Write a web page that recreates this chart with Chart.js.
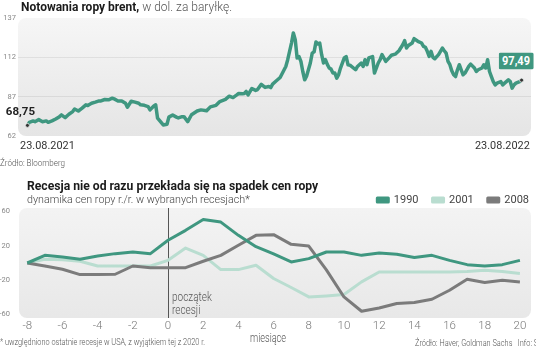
<!DOCTYPE html>
<html lang="pl"><head><meta charset="utf-8">
<script src="https://cdn.jsdelivr.net/npm/chart.js@4/dist/chart.umd.min.js"></script>
<style>
html,body{margin:0;padding:0;background:#fff;}
body{width:536px;height:348px;position:relative;overflow:hidden;font-family:Roboto,"Liberation Sans",sans-serif;color:#222;}
.abs{position:absolute;white-space:nowrap;line-height:1;}
.wrap{position:absolute;left:0;width:536px;}
.title{font-weight:bold;font-size:12.5px;color:#1b1b1b;}
.title span{font-weight:300;color:#555;}
.sub{font-size:11.5px;font-weight:300;color:#444;}
.date{font-size:11.5px;color:#333;}
.src{font-size:9px;color:#555;font-weight:300;}
.val{font-weight:bold;font-size:11.5px;color:#222;}
.box{font-weight:bold;font-size:12px;color:#fff;background:#3f9780;padding:2.5px 3.5px;border-radius:2px;}
.note{font-size:12px;color:#555;font-weight:300;line-height:13px;}
</style></head>
<body>
<div class="wrap" style="top:0;height:175px;">
  <canvas id="c1" width="536" height="175"></canvas>
  <div class="abs val" id="startVal" data-w="29" data-t="translate(-50%,-50%)" data-o="center"></div>
  <div class="abs box" id="endVal" data-w="35" data-t="translate(-50%,-50%)" data-o="center"></div>
</div>
<div class="wrap" style="top:175px;height:173px;">
  <canvas id="c2" width="536" height="173"></canvas>
  <div class="abs note" id="recNote" data-w="40" data-t="" data-o="left top">początek<br>recesji</div>
</div>
<div class="abs title fit" style="left:21px;top:7px;" data-w="211" data-t="translateY(-50%)" data-o="left center">Notowania ropy brent,<span> w dol. za baryłkę.</span></div>
<div class="abs date fit" id="d1" style="left:20px;top:146px;" data-w="55" data-t="translateY(-50%)" data-o="left center"></div>
<div class="abs date fit" id="d2" style="right:6px;top:146px;" data-w="55" data-t="translateY(-50%)" data-o="right center"></div>
<div class="abs src fit" style="left:0px;top:163px;" data-w="65" data-t="translateY(-50%)" data-o="left center">Źródło: Bloomberg</div>
<div class="abs title fit" style="left:27px;top:186px;" data-w="291" data-t="translateY(-50%)" data-o="left center">Recesja nie od razu przekłada się na spadek cen ropy</div>
<div class="abs sub fit" style="left:27px;top:200px;" data-w="223" data-t="translateY(-50%)" data-o="left center">dynamika cen ropy r./r. w wybranych recesjach*</div>
<div class="abs note fit" style="left:250px;top:337.5px;" data-w="36" data-t="translateY(-50%)" data-o="left center">miesiące</div>
<div class="abs src fit" style="left:0px;top:341.5px;" data-w="205" data-t="translateY(-50%)" data-o="left center">* uwzględniono ostatnie recesje w USA, z wyjątkiem tej z 2020 r.</div>
<div class="abs src fit" style="left:415px;top:343px;" data-w="123" data-t="translateY(-50%)" data-o="left center">Źródło: Haver, Goldman Sachs&nbsp;&nbsp;&nbsp;Info: S</div>
<script>
// ---------- DATA: top chart (Brent, USD/bbl) ----------
const brentStartDate = '23.08.2021';
const brentEndDate = '23.08.2022';
const brentDay = [0,1,3,4,6,8,10,11,13,15,17,18,20,22,24,25,27,29,31,32,34,36,38,39,41,43,45,46,48,50,52,53,55,57,59,60,62,64,65,67,68,69,72,74,75,77,79,80,82,83,85,87,90,92,95,97,100,102,105,107,109,111,112,114,115,116,117,119,121,122,124,126,128,129,130,132,134,137,138,139,140,141,142,143,144,145,146,147,148,150,151,152,153,154,155,156,157,158,159,160,161,162,163,164,165,166,168,169,170,171,174,175,177,178,179,180,181,183,184,186,187,188,190,192,193,195,197,199,200,201,202,204,205,207,209,210,211,212,213,214,215,216,218,220,221,222,223,224,225,226,227,228,229,230,231,232,234,235,237,238,239,241,242,243,244,245,246,247,248,249,251,252,253,255,256,257,258,259,261,262];
const brentPrice = [68.75,70.7,71.6,71.1,72.4,71.1,71.6,70.7,71.6,72.8,74.3,75.4,73.7,75.8,77.5,79.2,77.9,79.7,81.8,81.4,82.8,83.5,84.3,84.3,85.2,85.0,86.0,85.6,84.3,84.3,82.8,80.3,84.1,83.5,82.8,81.8,81.5,80.7,78.6,81.1,81.8,73.3,69.0,69.5,74.0,75.4,74.0,73.5,74.3,74.3,71.1,75.5,77.9,78.6,78.0,80.5,81.5,83.9,85.3,87.3,86.4,88.1,89.0,88.8,89.0,90.3,88.1,92.2,91.0,91.5,94.8,92.9,93.5,92.8,95.0,97.1,99.2,106.2,110.5,115.8,121.1,127.5,123.2,111.6,112.5,109.4,103.0,97.7,100.0,108.4,114.7,115.5,121.8,120.5,121.0,113.7,108.4,110.5,107.5,105.2,104.5,102.0,102.0,98.8,101.0,105.2,111.6,112.5,107.2,107.0,104.1,106.2,108.4,106.2,110.5,107.3,111.6,112.5,102.0,108.4,110.5,113.7,109.4,112.0,113.3,114.0,116.2,120.0,122.6,117.9,119.5,121.1,123.9,122.2,121.1,119.0,118.4,115.8,112.6,115.8,112.0,111.1,113.7,117.9,116.2,114.7,109.4,107.3,103.4,100.9,99.8,104.1,107.3,104.1,100.9,102.0,106.2,107.7,105.2,103.0,104.1,105.2,107.3,105.2,110.5,103.0,99.8,96.6,94.5,95.6,96.6,94.5,95.6,97.7,96.6,92.4,94.5,95.6,96.6,97.49];
const brentTicks = [62, 87, 112, 137];

// ---------- DATA: bottom chart (y/y oil price change in recessions, %) ----------
const months = [-8,-7,-6,-5,-4,-3,-2,-1,0,1,2,3,4,5,6,7,8,9,10,11,12,13,14,15,16,17,18,19,20];
const r1990 = [0,8.9,7.0,4.3,8.2,10.9,12.8,10.9,26.4,38,50.7,47.6,32.2,19,10.5,1.2,5.1,12.8,12.8,8.9,11.6,10.1,6.3,8.9,3.1,-1.9,-3.5,-1.9,3.1];
const r2001 = [0,4.3,3.9,2.0,-3.5,-3.5,-3.5,-3.5,3.1,17.4,8.9,-7.7,-7.7,-2.7,-18,-28.5,-39.5,-38.3,-36.7,-22,-10.4,-10.4,-10.4,-10.4,-10.4,-10,-8.5,-10,-12.3];
const r2008 = [0,-3.5,-7.3,-13.5,-13.5,-13.1,-3.5,-5.4,-5.4,-5.4,2.0,8.9,20.6,32.2,33,21.7,19.7,-8,-39.5,-56.1,-52.3,-47.2,-46,-42.2,-31.7,-18.9,-22.8,-20.1,-22];
const seriesNames = ['1990','2001','2008'];
const monthTicks = [-8,-6,-4,-2,0,2,4,6,8,10,12,14,16,18,20];
const pctTicks = [-60,-20,20,60];

const fmtPL = v => v.toFixed(2).replace('.', ',');

function fitText(el) {
  const t = el.dataset.t || '';
  el.style.transformOrigin = el.dataset.o || 'left center';
  el.style.transform = t;
  const nat = el.offsetWidth;
  const s = nat ? (+el.dataset.w) / nat : 1;
  el.style.transform = t + ' scaleX(' + s.toFixed(4) + ')';
}

Chart.defaults.font.family = 'Roboto, "Liberation Sans", sans-serif';
Chart.defaults.animation = false;

const panelBg = {
  id: 'panelBg',
  beforeDraw(chart, args, o) {
    const {ctx, chartArea: a} = chart;
    const g = ctx.createLinearGradient(0, a.top, 0, a.bottom);
    g.addColorStop(0, o.top); g.addColorStop(1, o.bottom);
    ctx.save(); ctx.fillStyle = g; ctx.beginPath();
    ctx.roundRect(a.left, a.top, a.right - a.left, a.bottom - a.top, o.r);
    ctx.fill(); ctx.restore();
  }
};

// ---------- top chart ----------
document.getElementById('d1').textContent = brentStartDate;
document.getElementById('d2').textContent = brentEndDate;
document.querySelectorAll('.fit').forEach(fitText);
const nB = brentPrice.length;
const placeLabels = {
  id: 'placeLabels',
  afterDraw(chart) {
    const pts = chart.getDatasetMeta(0).data;
    const p0 = pts[0], pn = pts[pts.length - 1];
    const s = document.getElementById('startVal');
    s.textContent = fmtPL(brentPrice[0]);
    s.style.left = (p0.x - 7) + 'px'; s.style.top = (p0.y - 13.5) + 'px';
    fitText(s);
    const e = document.getElementById('endVal');
    e.textContent = fmtPL(brentPrice[nB - 1]);
    e.style.left = (pn.x - 6) + 'px'; e.style.top = (pn.y - 19.5) + 'px';
    fitText(e);
  }
};
new Chart(document.getElementById('c1'), {
  type: 'line',
  data: { datasets: [{
    data: brentDay.map((d, i) => ({x: d, y: brentPrice[i]})),
    borderColor: '#3f9780', borderWidth: 3.5, tension: 0,
    borderJoinStyle: 'round', borderCapStyle: 'round',
    pointRadius: c => (c.dataIndex === 0 || c.dataIndex === nB - 1) ? 2 : 0,
    pointBackgroundColor: '#333', pointBorderColor: '#eee', pointBorderWidth: 0.8
  }]},
  options: {
    responsive: false, devicePixelRatio: 1,
    layout: { padding: {top: 18, bottom: 39, right: 5, left: 0} },
    plugins: { legend: {display: false}, tooltip: {enabled: false},
      panelBg: {top: '#f6f6f6', bottom: '#e5e5e5', r: 8} },
    scales: {
      x: { type: 'linear', min: -5, max: 267, display: false },
      y: { min: 62, max: 137,
        afterBuildTicks: s => { s.ticks = brentTicks.map(v => ({value: v})); },
        afterFit: s => { s.width = 18; },
        border: {display: false},
        grid: { drawTicks: false, lineWidth: 1,
          color: c => (c.tick && (c.tick.value === 87 || c.tick.value === 112)) ? 'rgba(0,0,0,0.07)' : 'rgba(0,0,0,0)' },
        ticks: { padding: 2, color: '#888', font: {size: 7.5} }
      }
    }
  },
  plugins: [panelBg, placeLabels]
});

// ---------- bottom chart ----------
const legendFix = {
  id: 'legendFix',
  beforeLayout(chart) {
    const lg = chart.legend;
    if (lg && !lg.__fixed) {
      const orig = lg.fit;
      lg.fit = function () { orig.call(this); this.height -= 7.5; };
      lg.__fixed = true;
    }
  },
  afterLayout(chart) {
    const lg = chart.legend;
    if (lg) { lg.left += 12; lg.right += 12; }
  },
  afterDraw(chart) {
    const xs = chart.scales.x;
    const n = document.getElementById('recNote');
    n.style.left = (xs.getPixelForValue(0) + 3.5) + 'px';
    n.style.top = '116px';
    fitText(n);
  }
};
new Chart(document.getElementById('c2'), {
  type: 'line',
  data: { datasets: [
    { label: seriesNames[0], data: months.map((m, i) => ({x: m, y: r1990[i]})), borderColor: '#3f9780', backgroundColor: '#3f9780', borderWidth: 3, order: 0 },
    { label: seriesNames[1], data: months.map((m, i) => ({x: m, y: r2001[i]})), borderColor: '#b9ddd0', backgroundColor: '#b9ddd0', borderWidth: 3, order: 2 },
    { label: seriesNames[2], data: months.map((m, i) => ({x: m, y: r2008[i]})), borderColor: '#7b7b7b', backgroundColor: '#7b7b7b', borderWidth: 3, order: 1 }
  ]},
  options: {
    responsive: false, devicePixelRatio: 1,
    elements: { point: {radius: 0}, line: {tension: 0, borderJoinStyle: 'round'} },
    layout: { padding: {top: 5.5, bottom: 0, right: 5, left: 0} },
    plugins: {
      tooltip: {enabled: false},
      panelBg: {top: '#f3f3f3', bottom: '#e8e8e8', r: 8},
      legend: { position: 'top', align: 'end',
        labels: { boxWidth: 11, boxHeight: 4, padding: 14, color: '#444', font: {size: 11},
          sort: (a, b) => a.datasetIndex - b.datasetIndex } }
    },
    scales: {
      x: { type: 'linear', min: -8.47, max: 20.63,
        afterBuildTicks: s => { s.ticks = monthTicks.map(v => ({value: v})); },
        afterFit: s => { s.height = 30; },
        border: {display: false},
        grid: { drawTicks: false, lineWidth: 1,
          color: c => (c.tick && c.tick.value === 0) ? '#555' : 'rgba(0,0,0,0)' },
        ticks: { padding: 1, color: '#777', font: {size: 11.5, weight: 300}, maxRotation: 0, autoSkip: false }
      },
      y: { min: -64, max: 64,
        afterBuildTicks: s => { s.ticks = pctTicks.map(v => ({value: v})); },
        afterFit: s => { s.width = 19; },
        border: {display: false},
        grid: { display: false },
        ticks: { padding: 1, color: '#888', font: {size: 7.5} }
      }
    }
  },
  plugins: [panelBg, legendFix]
});
</script>
</body></html>
